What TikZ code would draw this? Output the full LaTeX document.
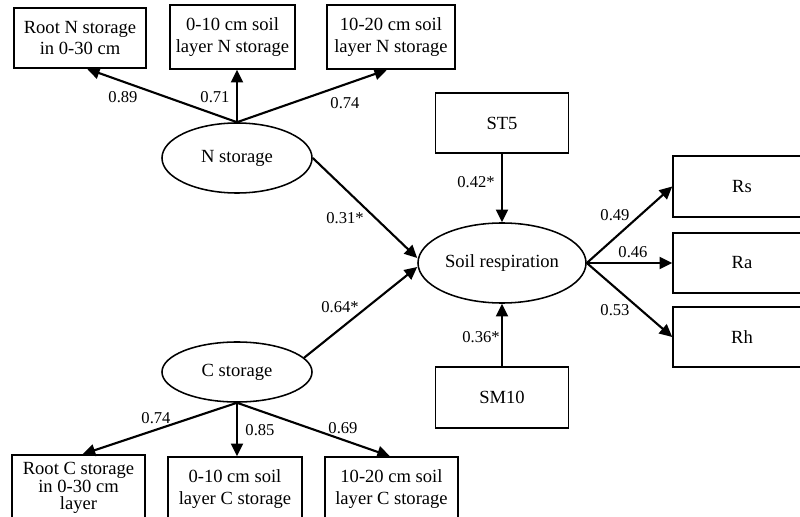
\documentclass[tikz,border=0pt]{standalone}
\usepackage{fontspec}
\setmainfont{Liberation Serif}
\usetikzlibrary{arrows.meta,shapes.geometric}

\tikzset{
    box/.style={draw, line width=1.1pt, inner sep=1pt, align=center,
        font=\fontsize{13.2}{15.5}\selectfont},
    oval/.style={draw, ellipse, line width=1.1pt, inner sep=0pt,
        font=\fontsize{13.2}{15.5}\selectfont},
    lbl/.style={inner sep=0pt, font=\fontsize{11.8}{13}\selectfont},
    arr/.style={line width=1.5pt, -{Triangle[length=9pt,width=8.5pt]}}
}

\begin{document}
\begin{tikzpicture}[x=0.025cm, y=-0.025cm]
        \useasboundingbox (0,0) rectangle (800,517);
        \clip (0,0) rectangle (800,517);

        % N storage side
        \node[box, minimum width=3.3cm, minimum height=1.5cm] (rootN) at (80,38) {Root N storage\\in 0-30 cm};
        \node[box, minimum width=3.125cm, minimum height=1.6cm] (soilNa) at (232.5,37) {0-10 cm soil\\layer N storage};
        \node[box, minimum width=3.2cm, minimum height=1.6cm] (soilNb) at (391,37) {10-20 cm soil\\layer N storage};
        \node[oval, minimum width=3.75cm, minimum height=1.75cm] (Nst) at (237,158) {N storage};

        % C storage side
        \node[oval, minimum width=3.75cm, minimum height=1.5cm] (Cst) at (237,372) {C storage};
        \node[box, minimum width=3.325cm, minimum height=1.65cm,
            font=\fontsize{13.2}{12.5}\selectfont] (rootC) at (78.5,488) {Root C storage\\in 0-30 cm\\layer};
        \node[box, minimum width=3.35cm, minimum height=1.6cm] (soilCa) at (235,489) {0-10 cm soil\\layer C storage};
        \node[box, minimum width=3.325cm, minimum height=1.6cm] (soilCb) at (391.5,489) {10-20 cm soil\\layer C storage};

        % soil respiration
        \node[oval, minimum width=4.2cm, minimum height=2cm] (SR) at (502,263) {Soil respiration};
        \node[box, minimum width=3.325cm, minimum height=1.5cm] (ST5) at (502,123) {ST5};
        \node[box, minimum width=3.325cm, minimum height=1.525cm] (SM10) at (502,397.5) {SM10};
        \node[box, minimum width=3.45cm, minimum height=1.525cm] (Rs) at (742,186.5) {Rs};
        \node[box, minimum width=3.45cm, minimum height=1.5cm] (Ra) at (742,263) {Ra};
        \node[box, minimum width=3.45cm, minimum height=1.5cm] (Rh) at (742,337) {Rh};

        % arrows
        \draw[arr] (Nst.north) -- ([xshift=0.175cm]rootN.south);
        \draw[arr] (Nst.north) -- (Nst.north |- soilNa.south);
        \draw[arr] (Nst.north) -- ([xshift=-0.1cm]soilNb.south);
        \draw[arr] (Nst.east) -- ([yshift=0.125cm]SR.west);
        \draw[arr] (Cst.12) -- ([yshift=-0.1cm]SR.west);
        \draw[arr] (Cst.south) -- ([xshift=0.1cm]rootC.north);
        \draw[arr] (Cst.south) -- (Cst.south |- soilCa.north);
        \draw[arr] (Cst.south) -- ([xshift=-0.04cm]soilCb.north);
        \draw[arr] (ST5.south) -- (SR.north);
        \draw[arr] (SM10.north) -- (SR.south);
        \draw[arr] (SR.east) -- (Rs.west);
        \draw[arr] (SR.east) -- (Ra.west);
        \draw[arr] (SR.east) -- (Rh.west);

        % path coefficients
        \node[lbl] (cRootN) at (123,97) {0.89};
        \node[lbl] (cSoilNa) at (215,97) {0.71};
        \node[lbl] (cSoilNb) at (345,103) {0.74};
        \node[lbl] (cNst) at (345,218) {0.31*};
        \node[lbl] (cCst) at (340,307) {0.64*};
        \node[lbl] (cRootC) at (156,418) {0.74};
        \node[lbl] (cSoilCa) at (260,430) {0.85};
        \node[lbl] (cSoilCb) at (343,428) {0.69};
        \node[lbl] (cST5) at (476,182) {0.42*};
        \node[lbl] (cSM10) at (481,337) {0.36*};
        \node[lbl] (cRs) at (615,215) {0.49};
        \node[lbl] (cRa) at (633,252) {0.46};
        \node[lbl] (cRh) at (615,310) {0.53};
\end{tikzpicture}
\end{document}
